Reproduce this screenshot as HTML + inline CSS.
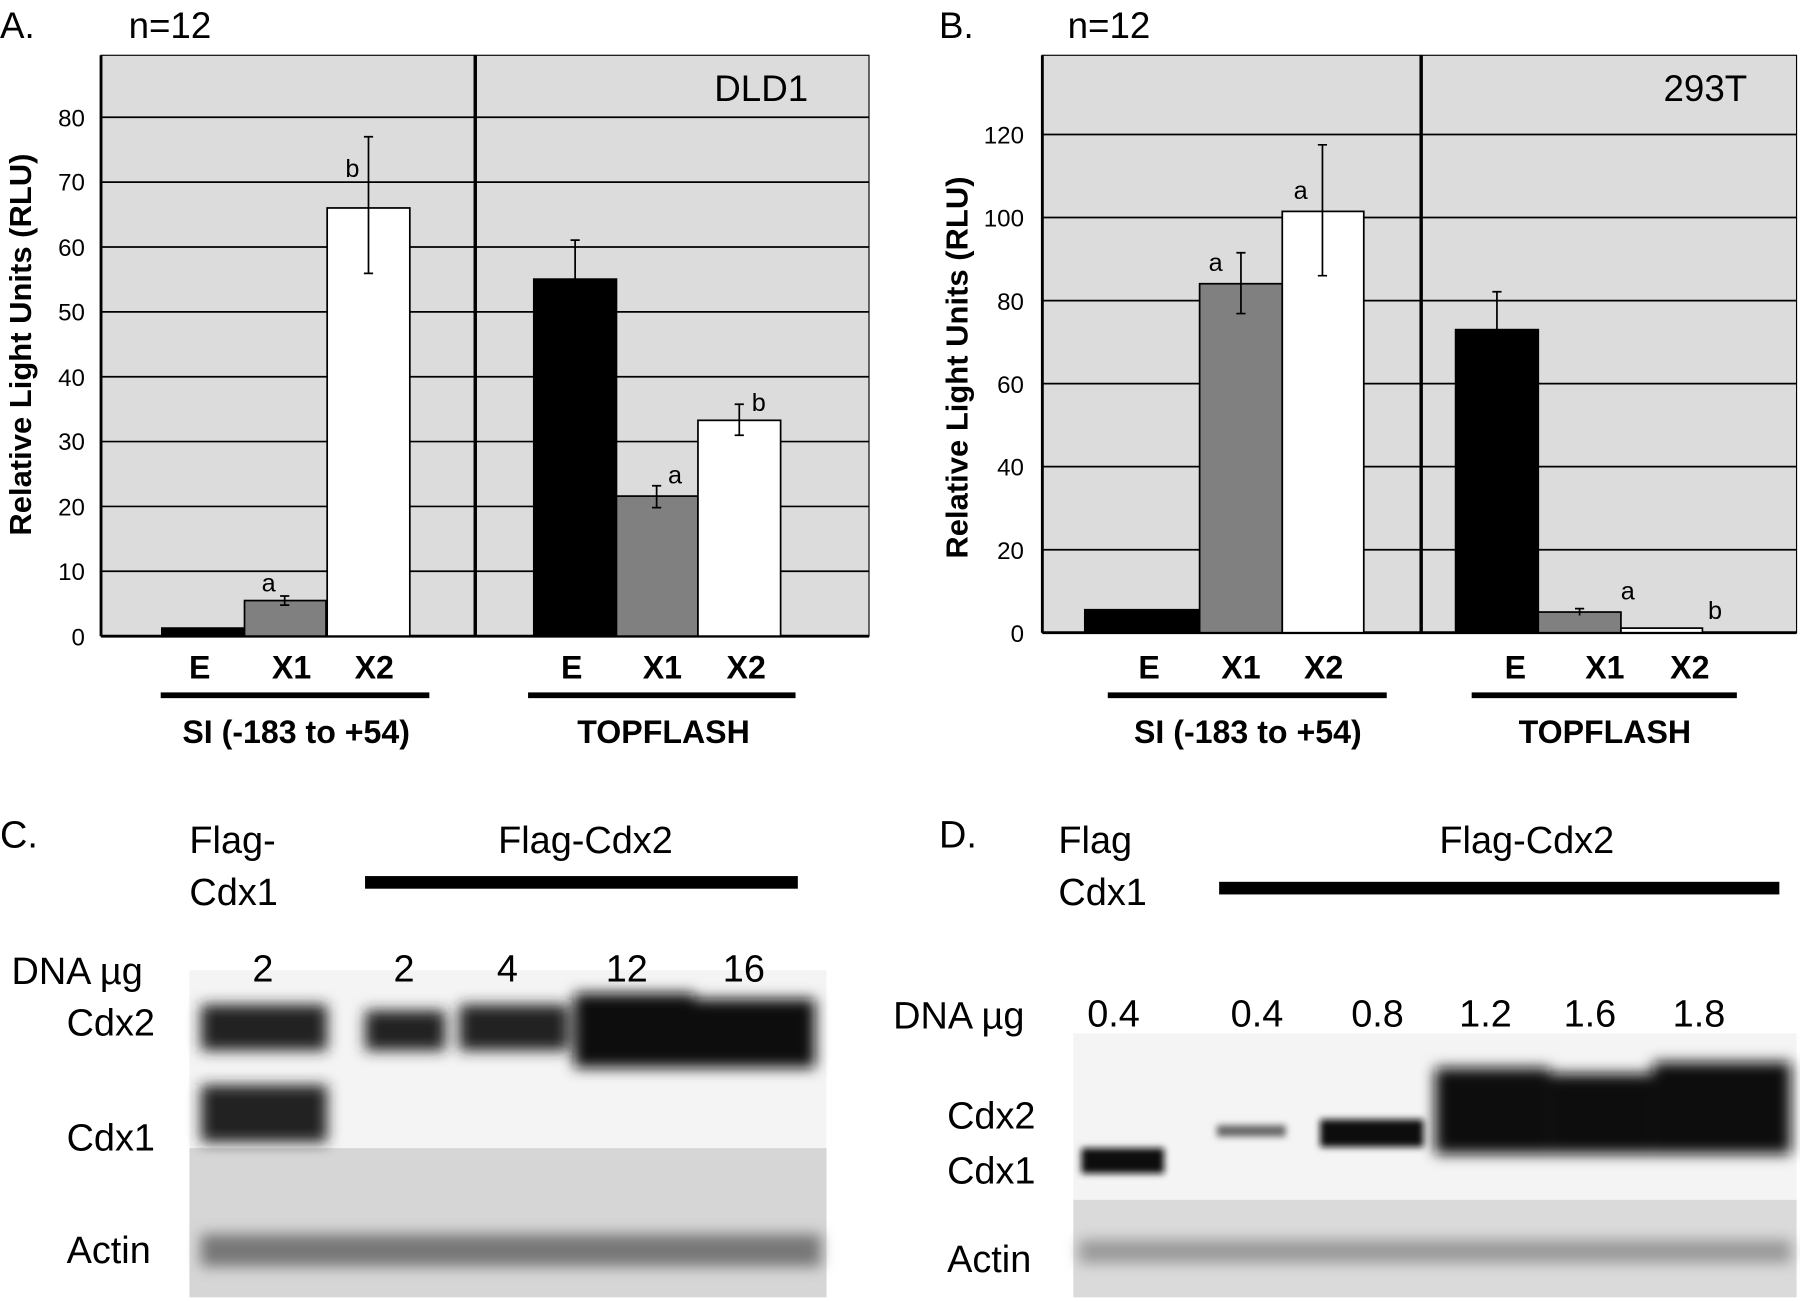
<!DOCTYPE html>
<html><head><meta charset="utf-8"><style>
html,body{margin:0;padding:0;background:#fff;}
svg{display:block;}
text{font-family:"Liberation Sans",sans-serif;fill:#000;}
.b{font-weight:bold;}
</style></head><body>
<svg width="1800" height="1301" viewBox="0 0 1568 1133" xmlns="http://www.w3.org/2000/svg">
<defs>
<filter id="bl" x="-20%" y="-50%" width="140%" height="200%"><feGaussianBlur stdDeviation="6"/></filter>
<filter id="bl2" x="-20%" y="-50%" width="140%" height="200%"><feGaussianBlur stdDeviation="3"/></filter>
</defs>
<rect width="1568" height="1133" fill="#fff"/>

<!-- Panel A -->
<rect x="88" y="48" width="669" height="506" fill="#dcdcdc" stroke="#000" stroke-width="1"/>
<g stroke="#000" stroke-width="1.5">
<line x1="88" y1="497.5" x2="757" y2="497.5"/><line x1="88" y1="441" x2="757" y2="441"/>
<line x1="88" y1="384.5" x2="757" y2="384.5"/><line x1="88" y1="328" x2="757" y2="328"/>
<line x1="88" y1="271.5" x2="757" y2="271.5"/><line x1="88" y1="215" x2="757" y2="215"/>
<line x1="88" y1="158.5" x2="757" y2="158.5"/><line x1="88" y1="102" x2="757" y2="102"/>
</g>
<line x1="88" y1="48" x2="88" y2="554" stroke="#000" stroke-width="2.5"/>
<line x1="88" y1="554" x2="757" y2="554" stroke="#000" stroke-width="2.5"/>
<line x1="414" y1="48" x2="414" y2="554" stroke="#000" stroke-width="3"/>
<g stroke="#000" stroke-width="1.5">
<rect x="141" y="547" width="71" height="7" fill="#000"/>
<rect x="213" y="523" width="71" height="31" fill="#808080"/>
<rect x="285" y="181" width="72" height="373" fill="#fff"/>
<rect x="465" y="243" width="72" height="311" fill="#000"/>
<rect x="537" y="432" width="71" height="122" fill="#808080"/>
<rect x="608" y="366" width="72" height="188" fill="#fff"/>
<path d="M248 519V527M244 519H252M244 527H252"/>
<path d="M321 119V238M317 119H325M317 238H325"/>
<path d="M501 209V243M497 209H505"/>
<path d="M572 423V442M568 423H576M568 442H576"/>
<path d="M644 352V379M640 352H648M640 379H648"/>
</g>
<g font-size="21" text-anchor="end">
<text x="74" y="562">0</text><text x="74" y="505">10</text><text x="74" y="449">20</text>
<text x="74" y="392">30</text><text x="74" y="336">40</text><text x="74" y="279">50</text>
<text x="74" y="223">60</text><text x="74" y="166">70</text><text x="74" y="110">80</text>
</g>
<text class="b" font-size="27" transform="translate(27,300) rotate(-90)" text-anchor="middle">Relative Light Units (RLU)</text>
<g font-size="22" text-anchor="middle"><text x="234" y="515">a</text><text x="307" y="154">b</text><text x="588" y="421">a</text><text x="661" y="358">b</text></g>
<text x="0" y="33" font-size="32">A.</text><text x="112" y="33" font-size="32">n=12</text>
<text x="704" y="88" font-size="32" text-anchor="end">DLD1</text>
<g class="b" font-size="28" text-anchor="middle">
<text x="174" y="591">E</text><text x="254" y="591">X1</text><text x="326" y="591">X2</text>
<text x="498" y="591">E</text><text x="577" y="591">X1</text><text x="650" y="591">X2</text>
<text x="258" y="647">SI (-183 to +54)</text><text x="578" y="647">TOPFLASH</text>
</g>
<rect x="140" y="603" width="234" height="5" fill="#000"/>
<rect x="460" y="603" width="233" height="5" fill="#000"/>

<!-- Panel B -->
<rect x="908" y="48" width="657" height="503" fill="#dcdcdc" stroke="#000" stroke-width="1"/>
<g stroke="#000" stroke-width="1.5">
<line x1="908" y1="478.7" x2="1565" y2="478.7"/><line x1="908" y1="406.3" x2="1565" y2="406.3"/>
<line x1="908" y1="334" x2="1565" y2="334"/><line x1="908" y1="261.7" x2="1565" y2="261.7"/>
<line x1="908" y1="189.3" x2="1565" y2="189.3"/><line x1="908" y1="117" x2="1565" y2="117"/>
</g>
<line x1="908" y1="48" x2="908" y2="551" stroke="#000" stroke-width="2.5"/>
<line x1="908" y1="551" x2="1565" y2="551" stroke="#000" stroke-width="2.5"/>
<line x1="1238" y1="48" x2="1238" y2="551" stroke="#000" stroke-width="3"/>
<g stroke="#000" stroke-width="1.5">
<rect x="945" y="531" width="100" height="20" fill="#000"/>
<rect x="1045" y="247" width="72" height="304" fill="#808080"/>
<rect x="1117" y="184" width="71" height="367" fill="#fff"/>
<rect x="1268" y="287" width="72" height="264" fill="#000"/>
<rect x="1340" y="533" width="72" height="18" fill="#808080"/>
<rect x="1412" y="547" width="71" height="4" fill="#fff"/>
<path d="M1081 220V273M1077 220H1085M1077 273H1085"/>
<path d="M1152 126V240M1148 126H1156M1148 240H1156"/>
<path d="M1304 254V287M1300 254H1308"/>
<path d="M1376 530V536M1372 530H1380"/>
</g>
<g font-size="21" text-anchor="end">
<text x="892" y="559">0</text><text x="892" y="487">20</text><text x="892" y="414">40</text>
<text x="892" y="342">60</text><text x="892" y="270">80</text><text x="892" y="197">100</text><text x="892" y="125">120</text>
</g>
<text class="b" font-size="27" transform="translate(843,320) rotate(-90)" text-anchor="middle">Relative Light Units (RLU)</text>
<g font-size="22" text-anchor="middle"><text x="1059" y="236">a</text><text x="1133" y="173">a</text><text x="1418" y="522">a</text><text x="1494" y="539">b</text></g>
<text x="818" y="33" font-size="32">B.</text><text x="930" y="33" font-size="32">n=12</text>
<text x="1522" y="88" font-size="32" text-anchor="end">293T</text>
<g class="b" font-size="28" text-anchor="middle">
<text x="1001" y="591">E</text><text x="1081" y="591">X1</text><text x="1153" y="591">X2</text>
<text x="1320" y="591">E</text><text x="1398" y="591">X1</text><text x="1472" y="591">X2</text>
<text x="1087" y="647">SI (-183 to +54)</text><text x="1398" y="647">TOPFLASH</text>
</g>
<rect x="965" y="603" width="243" height="5" fill="#000"/>
<rect x="1282" y="603" width="231" height="5" fill="#000"/>

<!-- Panel C blot -->
<rect x="165" y="845" width="555" height="155" fill="#f4f4f4"/>
<rect x="165" y="1000" width="555" height="130" fill="#d6d6d6"/>
<g filter="url(#bl)">
<rect x="175" y="875" width="110" height="40" fill="#222"/>
<rect x="175" y="945" width="110" height="50" fill="#222"/>
<rect x="318" y="880" width="70" height="35" fill="#222"/>
<rect x="400" y="875" width="95" height="40" fill="#222"/>
<rect x="500" y="865" width="105" height="65" fill="#111"/>
<rect x="605" y="870" width="105" height="60" fill="#111"/>
</g>
<rect x="175" y="1075" width="540" height="28" fill="#777" filter="url(#bl)"/>
<text x="0" y="738" font-size="33">C.</text>
<text x="165" y="743" font-size="33">Flag-</text><text x="165" y="788" font-size="33">Cdx1</text>
<text x="510" y="743" font-size="33" text-anchor="middle">Flag-Cdx2</text>
<rect x="318" y="763" width="377" height="11" fill="#000"/>
<text x="10" y="857" font-size="33">DNA µg</text>
<g font-size="33" text-anchor="middle"><text x="229" y="855">2</text><text x="352" y="855">2</text><text x="442" y="855">4</text><text x="546" y="855">12</text><text x="648" y="855">16</text></g>
<g font-size="33"><text x="58" y="902">Cdx2</text><text x="58" y="1002">Cdx1</text><text x="58" y="1100">Actin</text></g>

<!-- Panel D -->
<rect x="935" y="900" width="630" height="145" fill="#f4f4f4"/>
<rect x="935" y="1045" width="630" height="85" fill="#dadada"/>
<g filter="url(#bl2)">
<rect x="942" y="1000" width="72" height="22" fill="#111"/>
<rect x="1060" y="980" width="60" height="10" fill="#666"/>
<rect x="1150" y="975" width="90" height="24" fill="#111"/>
</g>
<g filter="url(#bl)">
<rect x="1250" y="930" width="100" height="75" fill="#111"/>
<rect x="1350" y="935" width="90" height="70" fill="#111"/>
<rect x="1440" y="925" width="120" height="80" fill="#111"/>
<rect x="940" y="1080" width="620" height="20" fill="#999"/>
</g>
<text x="818" y="738" font-size="33">D.</text>
<text x="922" y="743" font-size="33">Flag</text><text x="922" y="788" font-size="33">Cdx1</text>
<text x="1330" y="743" font-size="33" text-anchor="middle">Flag-Cdx2</text>
<rect x="1062" y="768" width="488" height="11" fill="#000"/>
<text x="778" y="896" font-size="33">DNA µg</text>
<g font-size="33" text-anchor="middle"><text x="970" y="894">0.4</text><text x="1095" y="894">0.4</text><text x="1200" y="894">0.8</text><text x="1294" y="894">1.2</text><text x="1385" y="894">1.6</text><text x="1480" y="894">1.8</text></g>
<g font-size="33"><text x="825" y="983">Cdx2</text><text x="825" y="1031">Cdx1</text><text x="825" y="1108">Actin</text></g>
</svg>
</body></html>
